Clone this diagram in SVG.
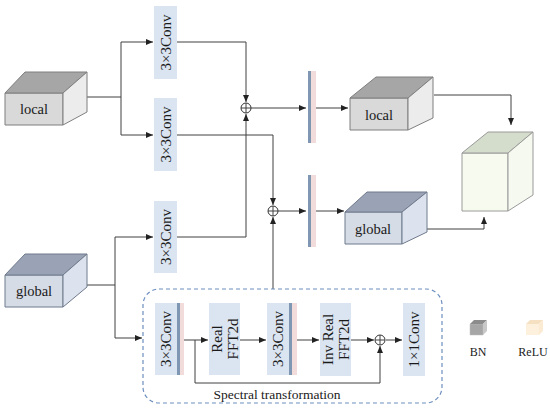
<svg xmlns="http://www.w3.org/2000/svg" width="550" height="411" viewBox="0 0 550 411" font-family="'Liberation Serif', 'DejaVu Serif', serif">
<style>
.conv{fill:#dbe5f1;stroke:none}
.t{font-family:'Liberation Serif','DejaVu Serif',serif;fill:#1a1a1a;text-anchor:middle}
.ct{font-size:15px}
.lbl{font-size:14.5px}
.ln{fill:none;stroke:#404040;stroke-width:1}
.op{fill:#fff;stroke:#333;stroke-width:1}
.bar{fill:#7f97b2}
.pink{fill:#f2dcdb}
</style>
<defs>
<marker id="ah" markerUnits="userSpaceOnUse" markerWidth="7" markerHeight="6" refX="7" refY="3" orient="auto">
<path d="M0,0 L7,3 L0,6 z" fill="#222"/>
</marker>
</defs>
<rect width="550" height="411" fill="#fff"/>

<g id="connectors">
<path class="ln" d="M87 97 H121 M121 42 V135"/>
<path class="ln" d="M121 42 H153" marker-end="url(#ah)"/>
<path class="ln" d="M121 135 H153" marker-end="url(#ah)"/>
<path class="ln" d="M177 42 H246 V102" marker-end="url(#ah)"/>
<path class="ln" d="M177 135 H273 V205" marker-end="url(#ah)"/>
<path class="ln" d="M177 237 H246 V114" marker-end="url(#ah)"/>
<path class="ln" d="M87 285 H115 M115 237 V338"/>
<path class="ln" d="M115 237 H153" marker-end="url(#ah)"/>
<path class="ln" d="M115 338 H142" marker-end="url(#ah)"/>
<path class="ln" d="M273 289 V217" marker-end="url(#ah)"/>
<path class="ln" d="M251 108 H306" marker-end="url(#ah)"/>
<path class="ln" d="M316 108 H348" marker-end="url(#ah)"/>
<path class="ln" d="M278 211 H306" marker-end="url(#ah)"/>
<path class="ln" d="M316 211 H344" marker-end="url(#ah)"/>
<path class="ln" d="M434 95 H511 V125" marker-end="url(#ah)"/>
<path class="ln" d="M426 229 H484 V217" marker-end="url(#ah)"/>
<path class="ln" d="M184 340 H208" marker-end="url(#ah)"/>
<path class="ln" d="M240 340 H266" marker-end="url(#ah)"/>
<path class="ln" d="M297 340 H319" marker-end="url(#ah)"/>
<path class="ln" d="M351 340 H374" marker-end="url(#ah)"/>
<path class="ln" d="M386 340 H402" marker-end="url(#ah)"/>
<path class="ln" d="M195 340 V383 H380 V346" marker-end="url(#ah)"/>
</g>

<g id="spectral-box">
<rect x="143" y="289" width="299" height="114" rx="16" fill="none" stroke="#6d8fbf" stroke-width="1.2" stroke-dasharray="4,3"/>
<text class="t" font-size="13.5" x="277" y="399">Spectral transformation</text>
</g>

<g id="local-in">
<polygon points="5,93 63,93 63,125 5,125" fill="#d9d9d9" stroke="#7f7f7f"/>
<polygon points="5,93 25,72 87,72 63,93" fill="#a6a6a6" stroke="#7f7f7f"/>
<polygon points="63,93 87,72 87,112 63,125" fill="#ececec" stroke="#7f7f7f"/>
<text class="t lbl" x="34" y="114">local</text>
</g>

<g id="global-in">
<polygon points="5,275 63,275 63,307 5,307" fill="#d6dce5" stroke="#6f7a8c"/>
<polygon points="5,275 25,254 87,254 63,275" fill="#9aa3b5" stroke="#6f7a8c"/>
<polygon points="63,275 87,254 87,287 63,307" fill="#dde3ee" stroke="#6f7a8c"/>
<text class="t lbl" x="34" y="296">global</text>
</g>

<g id="conv1">
<rect class="conv" x="154" y="6" width="23" height="73"/>
<text class="t ct" transform="translate(171,42.5) rotate(-90)">3×3Conv</text>
</g>
<g id="conv2">
<rect class="conv" x="154" y="98" width="23" height="73"/>
<text class="t ct" transform="translate(171,134.5) rotate(-90)">3×3Conv</text>
</g>
<g id="conv3">
<rect class="conv" x="154" y="201" width="23" height="72"/>
<text class="t ct" transform="translate(171,237) rotate(-90)">3×3Conv</text>
</g>

<g id="add1">
<circle class="op" cx="246" cy="108" r="5"/>
<path class="ln" d="M241 108 H251 M246 103 V113"/>
</g>
<g id="add2">
<circle class="op" cx="273" cy="211" r="5"/>
<path class="ln" d="M268 211 H278 M273 206 V216"/>
</g>

<g id="bnrelu1">
<rect class="bar" x="308" y="71" width="3" height="72"/>
<rect class="pink" x="311" y="71" width="5" height="72"/>
</g>
<g id="bnrelu2">
<rect class="bar" x="308" y="175" width="3" height="72"/>
<rect class="pink" x="311" y="175" width="5" height="72"/>
</g>

<g id="local-out">
<polygon points="350,98 408,98 408,130 350,130" fill="#d9d9d9" stroke="#7f7f7f"/>
<polygon points="350,98 376,77 433,77 408,98" fill="#a6a6a6" stroke="#7f7f7f"/>
<polygon points="408,98 433,77 433,118 408,130" fill="#ececec" stroke="#7f7f7f"/>
<text class="t lbl" x="379" y="120">local</text>
</g>

<g id="global-out">
<polygon points="345,212 402,212 402,244 345,244" fill="#d6dce5" stroke="#6f7a8c"/>
<polygon points="345,212 367,192 427,192 402,212" fill="#9aa3b5" stroke="#6f7a8c"/>
<polygon points="402,212 427,192 427,232 402,244" fill="#dde3ee" stroke="#6f7a8c"/>
<text class="t lbl" x="373" y="234">global</text>
</g>

<g id="output">
<polygon points="462,153 508,153 508,211 462,211" fill="#f7fbef" stroke="#9a9a9a"/>
<polygon points="462,153 488,132 533,132 508,153" fill="#d4dccb" stroke="#9a9a9a"/>
<polygon points="508,153 533,132 533,195 508,211" fill="#f5f9ef" stroke="#9a9a9a"/>
</g>

<g id="convA">
<rect class="conv" x="155" y="303" width="22" height="72"/>
<rect class="bar" x="177" y="303" width="3" height="72"/>
<rect class="pink" x="180" y="303" width="4" height="72"/>
<text class="t ct" transform="translate(171,339) rotate(-90)">3×3Conv</text>
</g>
<g id="realfft">
<rect class="conv" x="209" y="303" width="31" height="72"/>
<text class="t ct" transform="translate(230,339) rotate(-90)"><tspan x="0" dy="-8">Real</tspan><tspan x="0" dy="16">FFT2d</tspan></text>
</g>
<g id="convB">
<rect class="conv" x="267" y="303" width="22" height="72"/>
<rect class="bar" x="289" y="303" width="3" height="72"/>
<rect class="pink" x="292" y="303" width="5" height="72"/>
<text class="t ct" transform="translate(283,339) rotate(-90)">3×3Conv</text>
</g>
<g id="invfft">
<rect class="conv" x="320" y="303" width="31" height="73"/>
<text class="t ct" transform="translate(341,339.5) rotate(-90)"><tspan x="0" dy="-8">Inv Real</tspan><tspan x="0" dy="16">FFT2d</tspan></text>
</g>
<g id="add3">
<circle class="op" cx="380" cy="340" r="5"/>
<path class="ln" d="M375 340 H385 M380 335 V345"/>
</g>
<g id="conv1x1">
<rect class="conv" x="403" y="303" width="22" height="73"/>
<text class="t ct" transform="translate(419,339.5) rotate(-90)">1×1Conv</text>
</g>

<g id="legend-bn">
<polygon points="470,324 483,324 483,335 470,335" fill="#a6a6a6" stroke="#bdbdbd" stroke-width="0.5"/>
<polygon points="470,324 474,320 487,320 483,324" fill="#8c8c8c"/>
<polygon points="483,324 487,320 487,331 483,335" fill="#c8c8c8"/>
<text class="t" font-size="12" x="478" y="356" fill="#333">BN</text>
</g>
<g id="legend-relu">
<polygon points="526,324 539,324 539,335 526,335" fill="#fdf1dd"/>
<polygon points="526,324 530,320 543,320 539,324" fill="#f6e0c2"/>
<polygon points="539,324 543,320 543,331 539,335" fill="#fcebd3"/>
<text class="t" font-size="12" x="533" y="356" fill="#333">ReLU</text>
</g>
</svg>
